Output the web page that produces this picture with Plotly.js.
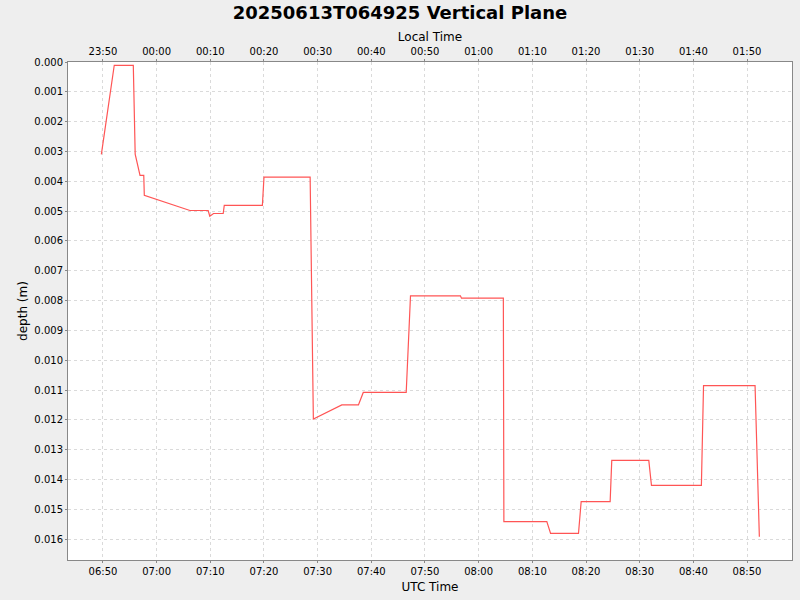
<!DOCTYPE html>
<html>
<head>
<meta charset="utf-8">
<script src="https://cdn.plot.ly/plotly-3.0.1.min.js"></script>
<style>
  html, body { margin: 0; padding: 0; background: #eeeeee; }
  #chart { width: 800px; height: 600px; }
</style>
</head>
<body>
<div id="chart"></div>
<script>
// UTC sample times and depths
var utcTimes = [
  '2025-06-13 06:49:42', '2025-06-13 06:52:06', '2025-06-13 06:55:39', '2025-06-13 06:56:00',
  '2025-06-13 06:56:54', '2025-06-13 06:57:36', '2025-06-13 06:57:42', '2025-06-13 07:06:12',
  '2025-06-13 07:09:36', '2025-06-13 07:09:54', '2025-06-13 07:10:36', '2025-06-13 07:12:24',
  '2025-06-13 07:12:36', '2025-06-13 07:19:42', '2025-06-13 07:20:00', '2025-06-13 07:28:36',
  '2025-06-13 07:29:12', '2025-06-13 07:34:30', '2025-06-13 07:37:36', '2025-06-13 07:38:30',
  '2025-06-13 07:46:30', '2025-06-13 07:47:18', '2025-06-13 07:56:36', '2025-06-13 07:56:48',
  '2025-06-13 08:04:36', '2025-06-13 08:04:42', '2025-06-13 08:12:42', '2025-06-13 08:13:24',
  '2025-06-13 08:18:36', '2025-06-13 08:19:06', '2025-06-13 08:24:30', '2025-06-13 08:24:48',
  '2025-06-13 08:31:42', '2025-06-13 08:32:12', '2025-06-13 08:41:30', '2025-06-13 08:41:54',
  '2025-06-13 08:51:30', '2025-06-13 08:52:18'
];
var depths = [
  0.00310, 0.00011, 0.00011, 0.00309,
  0.00380, 0.00380, 0.00447, 0.00498,
  0.00498, 0.00517, 0.00508, 0.00508,
  0.00481, 0.00481, 0.00386, 0.00386,
  0.01197, 0.01150, 0.01150, 0.01108,
  0.01108, 0.00784, 0.00784, 0.00792,
  0.00792, 0.01541, 0.01541, 0.01581,
  0.01581, 0.01474, 0.01474, 0.01336,
  0.01336, 0.01420, 0.01420, 0.01085,
  0.01085, 0.01592
];
var yTicks = [0, 0.001, 0.002, 0.003, 0.004, 0.005, 0.006, 0.007, 0.008,
  0.009, 0.010, 0.011, 0.012, 0.013, 0.014, 0.015, 0.016];

var utcRange = ['2025-06-13 06:43:29', '2025-06-13 08:58:23'];
var localRange = ['2025-06-12 23:43:29', '2025-06-13 01:58:23'];

var font = 'DejaVu Sans, sans-serif';
var axisLine = '#888888';
var gridCol = '#dadada';

var data = [{
  x: utcTimes,
  y: depths,
  type: 'scatter',
  mode: 'lines',
  line: { color: '#ff5555', width: 1.2 },
  hoverinfo: 'x+y'
}, {
  // invisible trace so the local time axis is drawn
  x: localRange,
  y: [0, 0],
  xaxis: 'x2',
  type: 'scatter',
  mode: 'lines',
  line: { width: 0 },
  showlegend: false,
  hoverinfo: 'skip'
}];

var layout = {
  width: 800,
  height: 600,
  paper_bgcolor: '#eeeeee',
  plot_bgcolor: '#ffffff',
  margin: { l: 68, r: 8, t: 62, b: 40 },
  showlegend: false,
  font: { family: font, size: 11, color: '#000' },
  title: {
    text: '<b>20250613T064925 Vertical Plane</b>',
    font: { family: font, size: 18, color: '#000' },
    x: 0.5, xanchor: 'center', y: 0.99, yanchor: 'top', pad: { t: 0 }
  },
  xaxis: {
    type: 'date',
    range: utcRange,
    tickformat: '%H:%M',
    dtick: 600000,
    tick0: '2025-06-13 06:50:00',
    showgrid: true, gridcolor: gridCol, griddash: '3px,3px', gridwidth: 1,
    showline: true, linecolor: axisLine, linewidth: 1, mirror: false,
    ticks: 'outside', ticklen: 2, tickcolor: axisLine,
    zeroline: false,
    title: { text: 'UTC Time', font: { family: font, size: 12 }, standoff: 6 },
    tickfont: { family: font, size: 10 }
  },
  xaxis2: {
    type: 'date',
    overlaying: 'x',
    side: 'top',
    anchor: 'y',
    range: localRange,
    tickformat: '%H:%M',
    dtick: 600000,
    tick0: '2025-06-12 23:50:00',
    showgrid: false,
    showline: true, linecolor: axisLine, linewidth: 1,
    ticks: 'outside', ticklen: 2, tickcolor: axisLine,
    zeroline: false,
    title: { text: 'Local Time', font: { family: font, size: 12 }, standoff: 1 },
    tickfont: { family: font, size: 10 }
  },
  yaxis: {
    range: [0.0167, 0],
    tickvals: yTicks,
    tickformat: '.3f',
    showgrid: true, gridcolor: gridCol, griddash: '3px,3px', gridwidth: 1,
    showline: true, linecolor: axisLine, linewidth: 1, mirror: true,
    ticks: 'outside', ticklen: 2, tickcolor: axisLine,
    zeroline: false,
    title: { text: 'depth (m)', font: { family: font, size: 12 }, standoff: 4 },
    tickfont: { family: font, size: 10 }
  }
};

Plotly.newPlot('chart', data, layout, { displayModeBar: false, displaylogo: false });
</script>
</body>
</html>
